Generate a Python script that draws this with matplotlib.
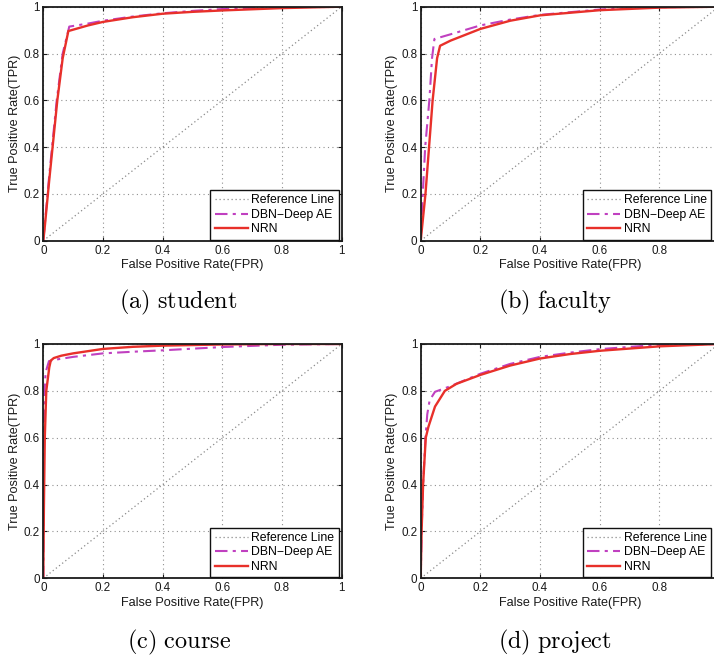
import matplotlib
matplotlib.use("Agg")
import matplotlib.pyplot as plt
from matplotlib.ticker import FuncFormatter

plt.rcParams['font.family'] = ['Liberation Sans', 'DejaVu Sans']
plt.rcParams['mathtext.fontset'] = 'cm'

# ROC curves per WebKB class
student_nrn_fpr = [0, 0.005, 0.02, 0.047, 0.065, 0.084, 0.15, 0.2, 0.3, 0.4, 0.5, 0.6, 0.8, 1.0]
student_nrn_tpr = [0, 0.06, 0.26, 0.6, 0.78, 0.896, 0.92, 0.935, 0.955, 0.97, 0.978, 0.984, 0.994, 1.0]
student_dbn_fpr = [0, 0.005, 0.02, 0.045, 0.065, 0.087, 0.15, 0.2, 0.3, 0.4, 0.5, 0.6, 0.8, 1.0]
student_dbn_tpr = [0, 0.07, 0.28, 0.6, 0.8, 0.915, 0.928, 0.94, 0.958, 0.972, 0.982, 0.99, 0.998, 1.0]

faculty_nrn_fpr = [0, 0.016, 0.028, 0.04, 0.055, 0.065, 0.1, 0.2, 0.3, 0.4, 0.6, 0.8, 1.0]
faculty_nrn_tpr = [0, 0.2, 0.4, 0.6, 0.78, 0.833, 0.855, 0.905, 0.94, 0.963, 0.985, 0.996, 1.0]
faculty_dbn_fpr = [0, 0.003, 0.007, 0.015, 0.029, 0.038, 0.046, 0.1, 0.2, 0.3, 0.4, 0.6, 0.8, 1.0]
faculty_dbn_tpr = [0, 0.1, 0.2, 0.4, 0.6, 0.78, 0.862, 0.882, 0.92, 0.945, 0.965, 0.988, 0.998, 1.0]

course_nrn_fpr = [0, 0.002, 0.005, 0.01, 0.02, 0.025, 0.035, 0.06, 0.1, 0.2, 0.3, 0.4, 0.6, 0.8, 1.0]
course_nrn_tpr = [0, 0.3, 0.6, 0.8, 0.9, 0.929, 0.94, 0.95, 0.96, 0.979, 0.988, 0.993, 0.998, 1.0, 1.0]
course_dbn_fpr = [0, 0.001, 0.004, 0.008, 0.019, 0.05, 0.1, 0.2, 0.3, 0.4, 0.5, 0.6, 0.8, 1.0]
course_dbn_tpr = [0, 0.4, 0.8, 0.88, 0.927, 0.935, 0.945, 0.96, 0.967, 0.973, 0.98, 0.987, 0.997, 1.0]

project_nrn_fpr = [0, 0.003, 0.008, 0.017, 0.026, 0.048, 0.081, 0.12, 0.2, 0.3, 0.4, 0.5, 0.6, 0.8, 1.0]
project_nrn_tpr = [0, 0.2, 0.4, 0.6, 0.647, 0.733, 0.8, 0.83, 0.868, 0.908, 0.938, 0.957, 0.971, 0.99, 1.0]
project_dbn_fpr = [0, 0.003, 0.008, 0.016, 0.022, 0.03, 0.048, 0.1, 0.2, 0.3, 0.4, 0.5, 0.6, 0.8, 1.0]
project_dbn_tpr = [0, 0.2, 0.4, 0.6, 0.7, 0.76, 0.796, 0.82, 0.873, 0.915, 0.945, 0.963, 0.978, 0.997, 1.0]

captions = ['(a)\\ student', '(b)\\ faculty', '(c)\\ course', '(d)\\ project']
ticks = [0, 0.2, 0.4, 0.6, 0.8, 1.0]

panels = [
    (student_nrn_fpr, student_nrn_tpr, student_dbn_fpr, student_dbn_tpr),
    (faculty_nrn_fpr, faculty_nrn_tpr, faculty_dbn_fpr, faculty_dbn_tpr),
    (course_nrn_fpr, course_nrn_tpr, course_dbn_fpr, course_dbn_tpr),
    (project_nrn_fpr, project_nrn_tpr, project_dbn_fpr, project_dbn_tpr),
]

W, H = 714, 656
fig = plt.figure(figsize=(W / 100, H / 100), dpi=100)

# axes boxes in pixels: left, top, width, height
boxes = [
    (43.3, 6.7, 298.4, 234.0),
    (420.7, 6.7, 298.2, 234.0),
    (43.3, 344.0, 298.4, 234.3),
    (420.7, 344.0, 298.2, 234.3),
]
caption_xy = [(178, 302), (555, 302), (179, 642), (555, 642)]
# right edge of each legend box, pixels
legend_right = [338.5, 711.0, 338.5, 711.0]

fmt = FuncFormatter(lambda v, p: ('%g' % v))

for i, (box, data) in enumerate(zip(boxes, panels)):
    l, t, w, h = box
    ax = fig.add_axes([l / W, 1 - (t + h) / H, w / W, h / H])
    nf, nt, df, dt = data
    ax.plot([0, 1], [0, 1], linestyle=(0, (1, 2.2)), color='#8a8a8a', lw=0.9,
            label='Reference Line')
    ax.plot(df, dt, linestyle=(0, (6, 2.5, 1.5, 2.5)), color='#c040c0', lw=1.5,
            label='DBN\u2212Deep AE')
    ax.plot(nf, nt, '-', color='#e8302a', lw=1.7, label='NRN')
    ax.set_xlim(0, 1)
    ax.set_ylim(0, 1)
    ax.set_xticks(ticks)
    ax.set_yticks(ticks)
    ax.xaxis.set_major_formatter(fmt)
    ax.yaxis.set_major_formatter(fmt)
    if i in (1, 3):
        # the x = 1 tick label falls past the right edge of the figure
        ax.set_xticklabels(['0', '0.2', '0.4', '0.6', '0.8', ''])
    ax.grid(True, linestyle=(0, (1, 3)), color='#909090', lw=0.8)
    ax.tick_params(direction='in', top=True, right=True, length=3,
                   labelsize=8.4, colors='#1a1a1a')
    ax.tick_params(axis='x', pad=3)
    ax.tick_params(axis='y', pad=2.5)
    for s in ax.spines.values():
        s.set_linewidth(1.3)
        s.set_color('#1a1a1a')
    ax.set_xlabel('False Positive Rate(FPR)', fontsize=9.1, labelpad=1.5,
                  color='#1a1a1a')
    ax.set_ylabel('True Positive Rate(TPR)', fontsize=9.1, labelpad=2,
                  color='#1a1a1a')
    anchor_x = (legend_right[i] - l) / w
    anchor_y = 1.2 / h
    leg = ax.legend(loc='lower right', bbox_to_anchor=(anchor_x, anchor_y),
                    bbox_transform=ax.transAxes, borderaxespad=0,
                    fontsize=8.8, handlelength=2.7, fancybox=False,
                    framealpha=1, edgecolor='#111111', borderpad=0.35,
                    labelspacing=0.2, handletextpad=0.3)
    leg.get_frame().set_linewidth(1.0)
    cx, cy = caption_xy[i]
    fig.text(cx / W, 1 - cy / H, '$\\mathrm{' + captions[i] + '}$',
             ha='center', va='center', fontsize=17.5)

fig.savefig('out.png', dpi=100)
